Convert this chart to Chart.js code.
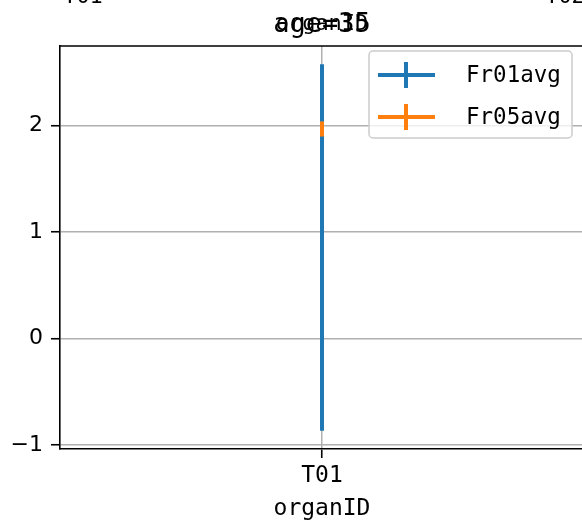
<!DOCTYPE html>
<html><head><meta charset="utf-8">
<script src="https://cdn.jsdelivr.net/npm/chart.js@4"></script>
<style>html,body{margin:0;padding:0;overflow:hidden;background:#fff;width:582px;height:524px}</style>
</head><body>
<canvas id="c" width="600" height="524" style="display:block;width:600px;height:524px"></canvas>
<script>
// ---- data ----
const categories = ['T01'];
const seriesNames = ['Fr01avg', 'Fr05avg'];
const fr01Avg = [0.854];
const fr01Err = [1.72];
const fr05Avg = [1.967];
const fr05Err = [0.071];
const yTicks = [-1, 0, 1, 2];
const titleText = 'age=35';
const xLabel = 'organID';
const topTickLabels = ['T01', 'T02'];   // clipped labels of the panel above

const colors = ['#1f77b4', '#ff7f0e'];
const avgs = [fr01Avg, fr05Avg];
const errs = [fr01Err, fr05Err];

// y limits with 5% margin like matplotlib
let lo = Infinity, hi = -Infinity;
avgs.forEach((a, s) => a.forEach((v, i) => { lo = Math.min(lo, v - errs[s][i]); hi = Math.max(hi, v + errs[s][i]); }));
const m = (hi - lo) * 0.05;
const yMin = lo - m, yMax = hi + m;

const MONO = "'DejaVu Sans Mono', monospace";

const errorBars = {
  id: 'errorBars',
  afterDatasetsDraw(chart) {
    const ctx = chart.ctx, xs = chart.scales.x, ys = chart.scales.y, a = chart.chartArea;
    ctx.save();
    ctx.beginPath(); ctx.rect(a.left, a.top, a.right - a.left, a.bottom - a.top); ctx.clip();
    avgs.forEach((arr, s) => {
      ctx.strokeStyle = colors[s]; ctx.lineWidth = 4; ctx.lineCap = 'butt';
      arr.forEach((v, i) => {
        const x = xs.getPixelForValue(i);
        ctx.beginPath();
        ctx.moveTo(x, ys.getPixelForValue(v + errs[s][i]));
        ctx.lineTo(x, ys.getPixelForValue(v - errs[s][i]));
        ctx.stroke();
      });
    });
    ctx.restore();
  },
  afterDraw(chart) {
    const ctx = chart.ctx, a = chart.chartArea;
    ctx.save();
    // top & right spines
    ctx.strokeStyle = '#000'; ctx.lineWidth = 1.6;
    ctx.beginPath(); ctx.moveTo(a.left, a.top); ctx.lineTo(a.right, a.top); ctx.lineTo(a.right, a.bottom); ctx.stroke();
    // titles
    ctx.fillStyle = '#000'; ctx.textAlign = 'center'; ctx.textBaseline = 'alphabetic';
    const cx = (a.left + a.right) / 2;
    ctx.font = "27px " + MONO; ctx.fillText(titleText, cx, 32);
    ctx.font = "22px " + MONO; ctx.fillText(xLabel, cx, 30);
    // clipped tick labels from panel above
    ctx.font = "22px " + MONO;
    ctx.fillText(topTickLabels[0], 83, 3);
    ctx.fillText(topTickLabels[1], 565, 3);
    // legend
    const bx = 369, by = 51, bw = 203, bh = 87;
    ctx.fillStyle = 'rgba(255,255,255,0.8)'; ctx.strokeStyle = '#cccccc'; ctx.lineWidth = 1.5;
    ctx.beginPath(); ctx.roundRect(bx, by, bw, bh, 4); ctx.fill(); ctx.stroke();
    const rows = [75, 117];
    seriesNames.forEach((name, s) => {
      const y = rows[s];
      ctx.strokeStyle = colors[s]; ctx.lineWidth = 4; ctx.lineCap = 'butt';
      ctx.beginPath(); ctx.moveTo(378, y); ctx.lineTo(435, y); ctx.stroke();
      ctx.beginPath(); ctx.moveTo(406, y - 13); ctx.lineTo(406, y + 13); ctx.stroke();
      ctx.fillStyle = '#000'; ctx.textAlign = 'left'; ctx.textBaseline = 'middle';
      ctx.font = "22.5px " + MONO;
      ctx.fillText(name, 466, y + 1);
    });
    ctx.restore();
  }
};

new Chart(document.getElementById('c'), {
  type: 'line',
  data: {
    labels: categories,
    datasets: seriesNames.map((n, s) => ({
      label: n,
      data: avgs[s],
      borderColor: colors[s],
      backgroundColor: colors[s],
      showLine: false,
      pointRadius: 0
    }))
  },
  options: {
    responsive: false,
    animation: false,
    layout: { padding: { left: 0, right: 16, top: 46, bottom: 0 } },
    plugins: { legend: { display: false }, title: { display: false }, tooltip: { enabled: false } },
    scales: {
      x: {
        type: 'category',
        offset: true,
        afterFit(s) { s.height = 75; },
        grid: { color: '#b0b0b0', lineWidth: 1.5, tickColor: '#000', tickWidth: 1.6, tickLength: 9, offset: false },
        border: { color: '#000', width: 1.6 },
        ticks: { color: '#000', font: { family: MONO, size: 23 }, padding: 4, maxRotation: 0 },
        title: { display: true, text: xLabel, color: '#000', font: { family: MONO, size: 23 }, padding: { top: 0, bottom: 1 } }
      },
      y: {
        min: yMin, max: yMax,
        afterFit(s) { s.width = 60; },
        afterBuildTicks(s) { s.ticks = yTicks.map(v => ({ value: v })); },
        grid: { color: '#b0b0b0', lineWidth: 1.5, tickColor: '#000', tickWidth: 1.6, tickLength: 9 },
        border: { color: '#000', width: 1.6 },
        ticks: {
          color: '#000', font: { family: "'DejaVu Sans', sans-serif", size: 22 }, padding: 8,
          callback: v => (v < 0 ? '\u2212' + Math.abs(v) : String(v))
        }
      }
    }
  },
  plugins: [errorBars]
});
</script>
</body></html>
